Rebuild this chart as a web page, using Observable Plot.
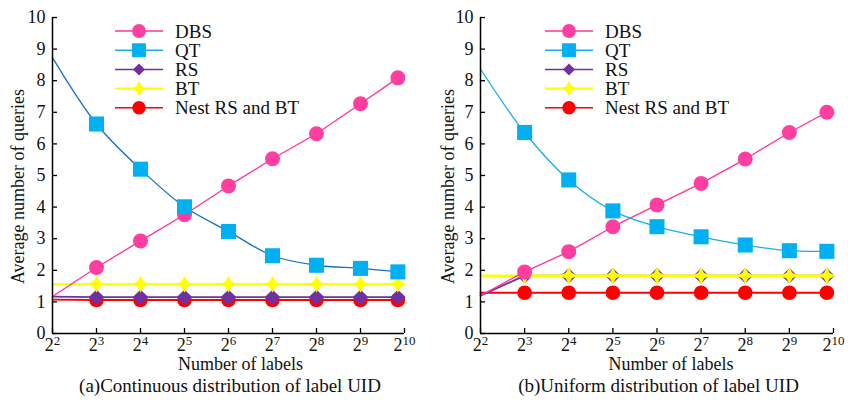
<!DOCTYPE html>
<html><head><meta charset="utf-8">
<script src="https://cdn.jsdelivr.net/npm/d3@7"></script>
<script src="https://cdn.jsdelivr.net/npm/@observablehq/plot@0.6"></script>
<style>
html,body{margin:0;padding:0;background:#fff;}
#wrap{display:flex;width:848px;height:401px;font-family:"Liberation Serif","Times New Roman",serif;}
.panel{position:relative;width:424px;height:401px;}
.cap{position:absolute;top:374px;left:0;font-size:19px;line-height:24px;color:#111;white-space:nowrap;transform:translateX(-50%);}
.legend{position:absolute;left:0;top:0;}
</style></head><body>
<div id="wrap"></div>
<script>
// ---------- data ----------
const seriesNames = ["DBS", "QT", "RS", "BT", "Nest RS and BT"];
const xTickExps = [2, 3, 4, 5, 6, 7, 8, 9, 10];       // ticks 2^n
const yTicks = [0, 1, 2, 3, 4, 5, 6, 7, 8, 9, 10];
const xStart = 2;                                      // lines start at 2^2 (no marker)
const xMarkers = [3, 4, 5, 6, 7, 8, 9, 9.85];          // marker positions (exponent)

// (a) Continuous distribution of label UID
const startA = [1.17, 8.73, 1.17, 1.56, 1.07];
const dbsA  = [2.09, 2.93, 3.76, 4.67, 5.53, 6.32, 7.27, 8.09];
const qtA   = [6.63, 5.20, 4.01, 3.23, 2.46, 2.16, 2.06, 1.95];
const rsA   = [1.15, 1.15, 1.15, 1.15, 1.15, 1.15, 1.15, 1.15];
const btA   = [1.56, 1.56, 1.56, 1.56, 1.56, 1.56, 1.56, 1.56];
const nestA = [1.06, 1.06, 1.06, 1.06, 1.06, 1.06, 1.06, 1.06];

// (b) Uniform distribution of label UID
const startB = [1.20, 8.37, 1.20, 1.83, 1.29];
const dbsB  = [1.95, 2.59, 3.38, 4.07, 4.75, 5.52, 6.36, 7.00];
const qtB   = [6.36, 4.86, 3.88, 3.38, 3.06, 2.80, 2.62, 2.60];
const rsB   = [1.83, 1.83, 1.83, 1.83, 1.83, 1.83, 1.83, 1.83];
const btB   = [1.83, 1.83, 1.83, 1.83, 1.83, 1.83, 1.83, 1.83];
const nestB = [1.29, 1.29, 1.29, 1.29, 1.29, 1.29, 1.29, 1.29];

const captions = ["(a)Continuous distribution of label UID", "(b)Uniform distribution of label UID"];
const xLabel = "Number of labels";
const yLabel = "Average number of queries";

// ---------- styles ----------
const star4 = {draw(ctx, size) {
  const r = Math.sqrt(size) * 0.6, i = r * 0.34;
  ctx.moveTo(0, -r); ctx.lineTo(i, -i); ctx.lineTo(r, 0); ctx.lineTo(i, i);
  ctx.lineTo(0, r); ctx.lineTo(-i, i); ctx.lineTo(-r, 0); ctx.lineTo(-i, -i); ctx.closePath();
}};
const styleOf = {
  "DBS":            {line: "#ff3399", fill: "#ff3f9f", symbol: "circle",   r: 7.5, w: 1.3, curve: "linear"},
  "QT":             {line: "#1a6fc2", fill: "#00b0f0", symbol: "square",   r: 8.5, w: 1.3, curve: "catmull-rom"},
  "RS":             {line: "#7030a0", fill: "#7030a0", symbol: "diamond2", r: 7,   w: 1.8, curve: "linear"},
  "BT":             {line: "#ffff00", fill: "#ffff00", symbol: star4,      r: 8,   w: 2.5, curve: "linear"},
  "Nest RS and BT": {line: "#ff0000", fill: "#ff0000", symbol: "circle",   r: 7.3, w: 1.8, curve: "linear"}
};
const drawOrder = ["Nest RS and BT", "RS", "BT", "DBS", "QT"];

const panels = [
  {start: startA, values: [dbsA, qtA, rsA, btA, nestA], ml: 52, mr: 20, qtLine: "#1a6fc2", lgX: 115, xl: 12, yl: -34},
  {start: startB, values: [dbsB, qtB, rsB, btB, nestB], ml: 56, mr: 15, qtLine: "#1aaee8", lgX: 121, xl: 14, yl: -32}
];

const H = 375, MT = 17, MB = 42, FS = 18;
const wrap = document.getElementById("wrap");

panels.forEach((p, pi) => {
  const div = document.createElement("div");
  div.className = "panel";
  wrap.appendChild(div);

  const marks = [];
  drawOrder.forEach(name => {
    const si = seriesNames.indexOf(name);
    const st = styleOf[name];
    const lineColor = name === "QT" ? p.qtLine : st.line;
    const pts = xMarkers.map((x, i) => ({x, y: p.values[si][i]}));
    const linePts = [{x: xStart, y: p.start[si]}, ...pts];
    marks.push(Plot.line(linePts, {x: "x", y: "y", stroke: lineColor, strokeWidth: st.w, curve: st.curve}));
    marks.push(Plot.dot(pts, {x: "x", y: "y", symbol: st.symbol, r: st.r, fill: st.fill, stroke: "none"}));
  });

  const chart = Plot.plot({
    width: 424, height: H,
    marginLeft: p.ml, marginRight: p.mr, marginTop: MT, marginBottom: MB,
    style: {fontFamily: "Liberation Serif, Times New Roman, serif", fontSize: FS + "px", background: "#fff", color: "#111", overflow: "visible"},
    x: {domain: [2, 10]},
    y: {domain: [0, 10]},
    marks: [
      ...marks,
      Plot.ruleX([2], {stroke: "#000", strokeWidth: 1.5}),
      Plot.ruleY([0], {stroke: "#000", strokeWidth: 1.5}),
      Plot.axisY({ticks: yTicks, tickSize: -5, tickPadding: 12, label: null, stroke: "#000", strokeWidth: 1.3, fill: "#111", fontSize: FS}),
      Plot.axisX({ticks: xTickExps, tickSize: -5, tickPadding: 10, tickFormat: d => "2^" + d, label: null, stroke: "#000", strokeWidth: 1.3, fill: "#111", fontSize: FS}),
      Plot.text([xLabel], {frameAnchor: "bottom", dx: p.xl, dy: 31, lineAnchor: "middle", textAnchor: "middle", fontSize: FS, fill: "#111"}),
      Plot.text([yLabel], {frameAnchor: "left", dx: p.yl, dy: 11, rotate: -90, lineAnchor: "middle", textAnchor: "middle", fontSize: FS, fill: "#111"})
    ]
  });
  div.appendChild(chart);

  // superscript exponents on x tick labels
  d3.select(chart).selectAll('g[aria-label="x-axis tick label"] text').each(function() {
    const t = d3.select(this), s = t.text();
    const m = s.match(/^2\^(\d+)$/);
    if (!m) return;
    t.text(null);
    t.append("tspan").text("2");
    t.append("tspan").attr("dy", "-0.5em").attr("font-size", "0.72em").text(m[1]);
  });

  // legend
  const lg = d3.select(div).append("svg").attr("class", "legend").attr("width", 424).attr("height", 130)
    .style("font-family", "Liberation Serif, Times New Roman, serif").style("font-size", "19px");
  seriesNames.forEach((name, i) => {
    const st = styleOf[name];
    const y = 31 + i * 19.2;
    const lc = name === "QT" ? "#1ab0f0" : st.line;
    lg.append("line").attr("x1", p.lgX).attr("x2", p.lgX + 48).attr("y1", y).attr("y2", y)
      .attr("stroke", lc).attr("stroke-width", name === "BT" ? 2 : 1.5);
    const sym = typeof st.symbol === "string"
      ? ({circle: d3.symbolCircle, square: d3.symbolSquare, diamond2: d3.symbolDiamond2})[st.symbol]
      : st.symbol;
    const sc = name === "RS" ? 0.6 : 0.85;
    lg.append("path").attr("transform", `translate(${p.lgX + 24},${y})`)
      .attr("d", d3.symbol(sym, Math.PI * st.r * st.r * sc)()).attr("fill", st.fill);
    lg.append("text").attr("x", p.lgX + 60).attr("y", y).attr("dy", "0.35em").attr("fill", "#111").text(name);
  });

  const cap = document.createElement("div");
  cap.className = "cap";
  cap.style.left = (p.ml + (424 - p.ml - p.mr) / 2 + 2) + "px";
  cap.textContent = captions[pi];
  div.appendChild(cap);
});
</script>
</body></html>
